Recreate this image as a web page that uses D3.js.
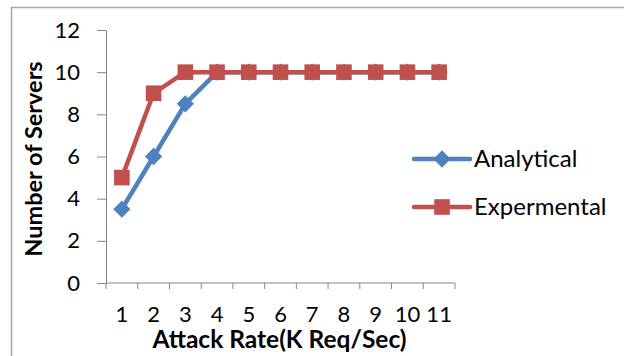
<!DOCTYPE html>
<html>
<head>
<meta charset="utf-8">
<script src="https://cdn.jsdelivr.net/npm/d3@7"></script>
<style>
    body { margin: 0; background: #fff; }
    svg { display: block; font-family: Lato, "Open Sans", sans-serif; }
</style>
</head>
<body>
<div id="chart"></div>
<script>
const attackRates = ["1", "2", "3", "4", "5", "6", "7", "8", "9", "10", "11"];
const analytical = [3.5, 6, 8.5, 10, 10, 10, 10, 10, 10, 10, 10];
const expermental = [5, 9, 10, 10, 10, 10, 10, 10, 10, 10, 10];
const yTicks = [0, 2, 4, 6, 8, 10, 12];

const size = { width: 624, height: 356 };
const margin = { top: 30, right: 169, bottom: 73, left: 106 };
const width = size.width - margin.left - margin.right;
const height = size.height - margin.top - margin.bottom;

const blue = "#4f81bd";
const red = "#c0504d";
const axisColor = "#868686";

const svg = d3.select("#chart").append("svg")
    .attr("width", size.width)
    .attr("height", size.height);

// chart frame
svg.append("rect")
    .attr("x", 11.5).attr("y", 7.5)
    .attr("width", 640).attr("height", 400)
    .attr("fill", "none")
    .attr("stroke", "#a6a6a6")
    .attr("stroke-width", 1.5);

const g = svg.append("g")
    .attr("transform", "translate(" + margin.left + "," + margin.top + ")");

const xScale = d3.scaleBand().domain(attackRates).range([0, width]).padding(0);
const yScale = d3.scaleLinear().domain([0, 12]).range([height, 0]);
const xPos = (d, i) => xScale(attackRates[i]) + xScale.bandwidth() / 2;

// y axis
const yAxisG = g.append("g")
    .call(d3.axisLeft(yScale).tickValues(yTicks).tickSize(9).tickPadding(17).tickFormat(d3.format("d")));
yAxisG.selectAll("text").attr("font-size", 22).attr("fill", "#000").attr("font-family", "Lato");

// x axis: ticks on the category boundaries, labels in the middle
const xTickG = g.append("g")
    .attr("transform", "translate(0," + height + ")")
    .call(d3.axisBottom(xScale).tickSize(0).tickPadding(23));
xTickG.select(".domain").remove();
xTickG.selectAll("text").attr("font-size", 22).attr("fill", "#000").attr("font-family", "Lato");

const boundaries = d3.range(attackRates.length + 1).map(i => i * xScale.step());
g.append("g")
    .attr("class", "xBoundaryTicks")
    .selectAll("line")
    .data(boundaries)
    .join("line")
    .attr("x1", d => d).attr("x2", d => d)
    .attr("y1", height).attr("y2", height + 6)
    .attr("stroke", axisColor);

g.append("line")
    .attr("x1", 0).attr("x2", width)
    .attr("y1", height).attr("y2", height)
    .attr("stroke", axisColor);

g.selectAll(".domain, .tick line").attr("stroke", axisColor);

// axis titles
svg.append("text")
    .attr("x", margin.left + width / 2 - 1)
    .attr("y", 348)
    .attr("text-anchor", "middle")
    .attr("font-size", 24.5)
    .attr("font-weight", "bold")
    .text("Attack Rate(K Req/Sec)");

svg.append("text")
    .attr("transform", "translate(42,159) rotate(-90)")
    .attr("text-anchor", "middle")
    .attr("font-size", 23.5)
    .attr("font-weight", "bold")
    .text("Number of Servers");

// series
const line = d3.line().x(xPos).y(d => yScale(d));

const diamond = d3.symbol().type(d3.symbolDiamond2).size(190);
const square = d3.symbol().type(d3.symbolSquare2).size(310);

function drawSeries(values, color, symbol) {
    const s = g.append("g");
    s.append("path")
        .attr("d", line(values))
        .attr("fill", "none")
        .attr("stroke", color)
        .attr("stroke-width", 4.5)
        .attr("stroke-linejoin", "round");
    s.selectAll("path.marker")
        .data(values)
        .join("path")
        .attr("class", "marker")
        .attr("transform", (d, i) => "translate(" + xPos(d, i) + "," + yScale(d) + ")")
        .attr("d", symbol)
        .attr("fill", color);
}

drawSeries(analytical, blue, diamond);
drawSeries(expermental, red, square);

// legend
const legend = svg.append("g").attr("transform", "translate(414,0)");
const legendItems = [
    { name: "Analytical", color: blue, symbol: diamond, y: 159 },
    { name: "Expermental", color: red, symbol: square, y: 207 }
];
legendItems.forEach(item => {
    legend.append("line")
        .attr("x1", 0).attr("x2", 56)
        .attr("y1", item.y).attr("y2", item.y)
        .attr("stroke", item.color)
        .attr("stroke-width", 4.5)
        .attr("stroke-linecap", "round");
    legend.append("path")
        .attr("transform", "translate(28," + item.y + ")")
        .attr("d", item.symbol)
        .attr("fill", item.color);
    legend.append("text")
        .attr("x", 60)
        .attr("y", item.y + 8)
        .attr("font-size", 24)
        .text(item.name);
});
</script>
</body>
</html>
